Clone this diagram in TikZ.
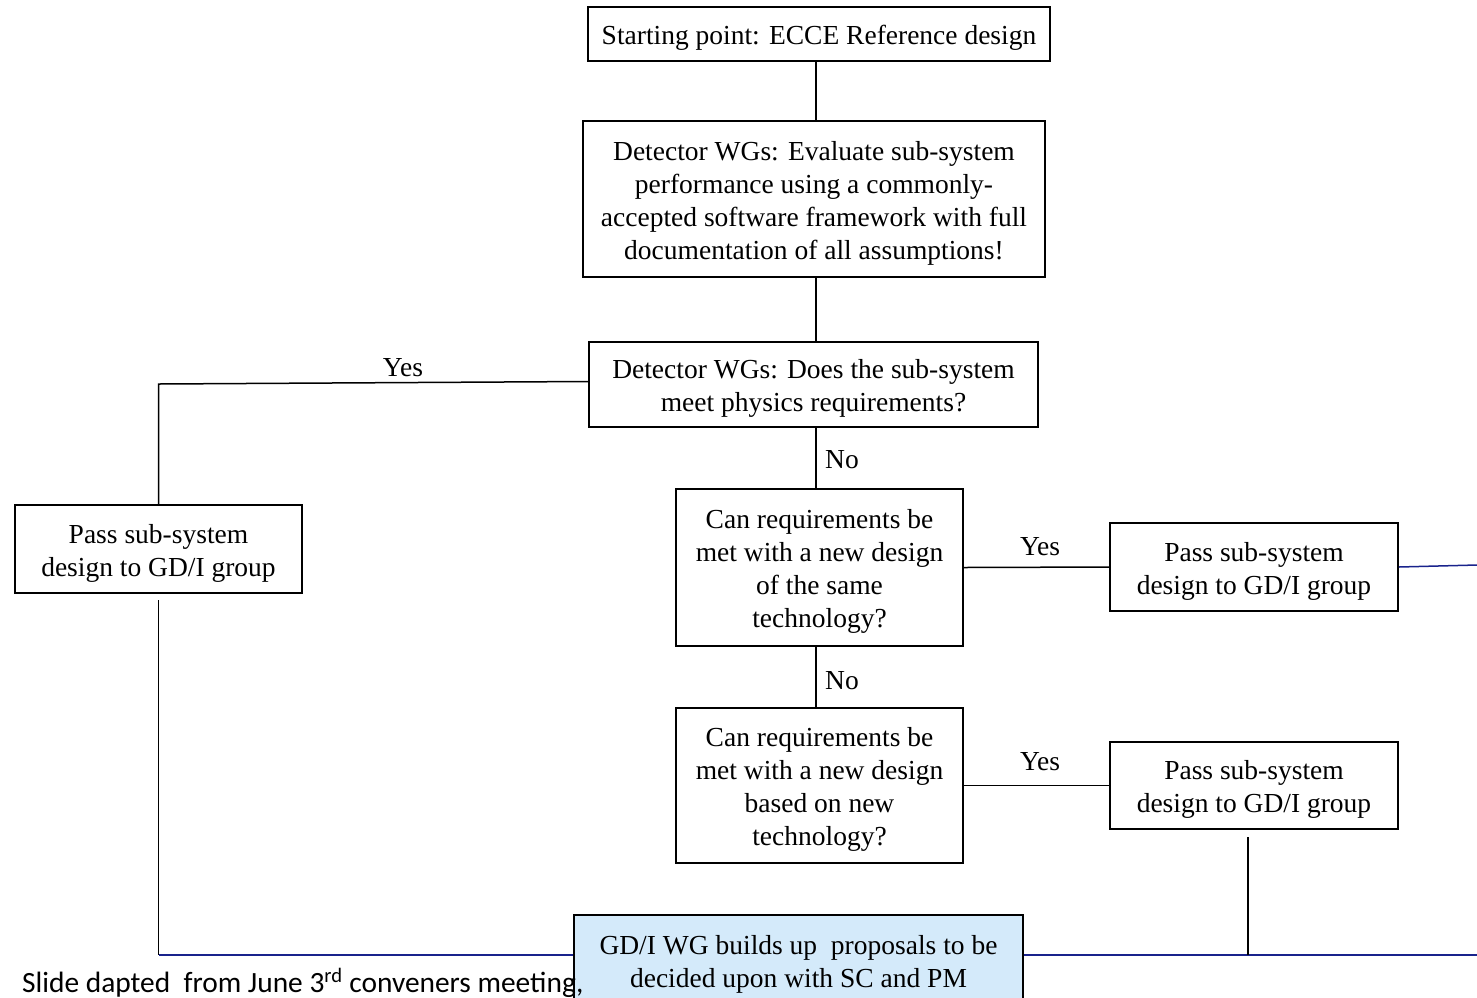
\documentclass[tikz,border=0pt]{standalone}
\usepackage{fontspec}
\setmainfont{Liberation Serif}
\newfontfamily\footfont{Carlito}
\definecolor{gdfill}{RGB}{212,234,250}
\definecolor{navy}{RGB}{25,35,140}
\newcommand\tup{\rule{0pt}{27pt}}
\begin{document}
\begin{tikzpicture}[x=1pt,y=-1pt,
  box/.style={draw=black,line width=1.5pt,align=center,inner sep=0pt,
    font=\fontsize{27.5}{33}\selectfont},
  conn/.style={line width=1.5pt,draw=black},
  bconn/.style={line width=1.5pt,draw=navy},
  lbl/.style={font=\fontsize{27.5}{33}\selectfont,inner sep=0pt}]
\clip (0,0) rectangle (1477,997);
\fill[white] (0,0) rectangle (1477,997);
\node[box,minimum width=462,minimum height=54] (b1) at (819,34) {\tup Starting point: ECCE Reference design};
\node[box,minimum width=462,minimum height=156] (b2) at (814,199) {\tup Detector WGs: Evaluate sub-system\\performance using a commonly-\\accepted software framework with full\\documentation of all assumptions!};
\node[box,minimum width=449,minimum height=85] (b3) at (813.5,384.5) {\tup Detector WGs: Does the sub-system\\meet physics requirements?};
\node[box,minimum width=287,minimum height=88] (b4) at (158.5,549) {\tup Pass sub-system\\design to GD/I group};
\node[box,minimum width=287,minimum height=157] (b5) at (819.5,567.5) {\tup Can requirements be\\met with a new design\\of the same\\technology?};
\node[box,minimum width=288,minimum height=88] (b6) at (1254,567) {\tup Pass sub-system\\design to GD/I group};
\node[box,minimum width=287,minimum height=155] (b7) at (819.5,785.5) {\tup Can requirements be\\met with a new design\\based on new\\technology?};
\node[box,minimum width=288,minimum height=87] (b8) at (1254,785.5) {\tup Pass sub-system\\design to GD/I group};
\node[box,fill=gdfill,minimum width=449,minimum height=90] (b9) at (798.5,960) {\tup GD/I WG builds up\ \ proposals to be\\decided upon with SC and PM};
% coordinates
\coordinate (cl) at (158.5,384);
\coordinate (b4s) at (158.5,600);
\coordinate (bl) at (158.5,955);
\coordinate (b8s) at (1248,837);
\coordinate (br) at (1248,955);
\coordinate (re1) at (1477,565);
\coordinate (re2) at (1477,955);
% connectors
\draw[conn] (b1.south -| 816,0) -- (b2.north -| 816,0);
\draw[conn] (b2.south -| 816,0) -- (b3.north -| 816,0);
\draw[conn] ([yshift=3]b3.west) -- (cl) -- (b4.north);
\draw[conn] (b3.south -| 816,0) -- (b5.north -| 816,0);
\draw[conn] (b5.south -| 816,0) -- (b7.north -| 816,0);
\draw[conn] (b5.east) -- (b6.west);
\draw[conn] (b7.east) -- (b8.west);
\draw[bconn] (b6.east) -- (re1);
\draw[conn] (b4s) -- (bl);
\draw[bconn] (bl) -- (bl -| b9.west);
\draw[bconn] (b9.east |- br) -- (re2);
\draw[conn] (b8s) -- (br);
% labels
\node[lbl] (y1) at (403,368) {Yes};
\node[lbl] (n1) at (842,460) {No};
\node[lbl] (y2) at (1040,547) {Yes};
\node[lbl] (n2) at (842,681) {No};
\node[lbl] (y3) at (1040,762) {Yes};
% footer
\node[anchor=base west,inner sep=0pt,font=\footfont\fontsize{29.4}{34}\selectfont] (ft) at (22,992) {Slide dapted\ \ from June 3\textsuperscript{rd} conveners meeting,};
\end{tikzpicture}
\end{document}
